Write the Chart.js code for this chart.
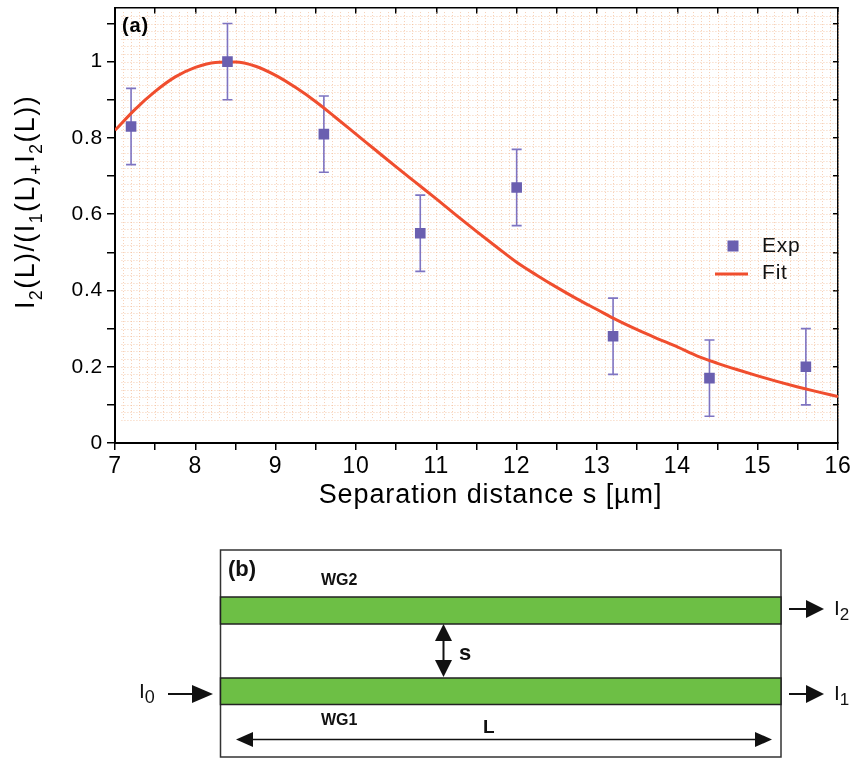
<!DOCTYPE html>
<html>
<head>
<meta charset="utf-8">
<script src="https://cdn.jsdelivr.net/npm/chart.js@4.4.1/dist/chart.umd.min.js"></script>
<style>
  body { margin: 0; background: #fff; width: 858px; height: 759px; overflow: hidden; position: relative; }
  #wrap { position: absolute; left: 0; top: 0; width: 858px; height: 520px; }
  svg { position: absolute; left: 0; top: 0; }
  svg text { font-family: "Liberation Sans", Arial, sans-serif; fill: #111; }
</style>
</head>
<body>
<div id="wrap"><canvas id="c" width="858" height="520"></canvas></div>

<svg width="858" height="759" viewBox="0 0 858 759">
  <!-- (b) waveguide sketch -->
  <rect x="220.5" y="550" width="560.5" height="207" fill="#fff" stroke="#333" stroke-width="1.5"/>
  <rect x="220.5" y="597" width="560.5" height="27" fill="#6dbf45" stroke="#222" stroke-width="1.5"/>
  <rect x="220.5" y="678" width="560.5" height="26.5" fill="#6dbf45" stroke="#222" stroke-width="1.5"/>
  <text x="228" y="576" font-size="22" font-weight="bold">(b)</text>
  <text x="321" y="585" font-size="16" font-weight="bold">WG2</text>
  <text x="321" y="725" font-size="16" font-weight="bold">WG1</text>
  <text x="483" y="733" font-size="19" font-weight="bold">L</text>
  <text x="459" y="660" font-size="22" font-weight="bold">s</text>
  <!-- L arrow -->
  <line x1="250" y1="739.5" x2="758" y2="739.5" stroke="#111" stroke-width="1.5"/>
  <polygon points="236,739.5 253,732 253,747" fill="#111"/>
  <polygon points="772,739.5 755,732 755,747" fill="#111"/>
  <!-- s arrow -->
  <line x1="443.5" y1="638" x2="443.5" y2="662" stroke="#111" stroke-width="2"/>
  <polygon points="443.5,624 435,641 452,641" fill="#111"/>
  <polygon points="443.5,677 435,660 452,660" fill="#111"/>
  <!-- outputs -->
  <line x1="789" y1="609" x2="808" y2="609" stroke="#111" stroke-width="2"/>
  <polygon points="824,609 806,600 806,618" fill="#111"/>
  <line x1="789" y1="694" x2="808" y2="694" stroke="#111" stroke-width="2"/>
  <polygon points="824,694 806,685 806,703" fill="#111"/>
  <text x="834" y="615" font-size="21">I<tspan font-size="17" dy="5">2</tspan></text>
  <text x="834" y="700" font-size="21">I<tspan font-size="17" dy="5">1</tspan></text>
  <!-- input -->
  <line x1="168" y1="694" x2="194" y2="694" stroke="#111" stroke-width="2"/>
  <polygon points="213,694 192,685 192,703" fill="#111"/>
  <text x="139" y="698" font-size="21">I<tspan font-size="18" dy="5">0</tspan></text>
</svg>

<script>
// measured points
const sExp = [7.2, 8.4, 9.6, 10.8, 12.0, 13.2, 14.4, 15.6];
const ratioExp = [0.83, 1.00, 0.81, 0.55, 0.67, 0.28, 0.17, 0.20];
const errExp = [0.1, 0.1, 0.1, 0.1, 0.1, 0.1, 0.1, 0.1];

// fit curve
const sFit = [7.0, 7.25, 7.5, 7.75, 8.0, 8.25, 8.5, 8.75, 9.0, 9.25, 9.5, 9.75,
  10.0, 10.25, 10.5, 10.75, 11.0, 11.25, 11.5, 11.75, 12.0, 12.25, 12.5, 12.75,
  13.0, 13.25, 13.5, 13.75, 14.0, 14.25, 14.5, 14.75, 15.0, 15.25, 15.5, 15.75, 16.0];
const ratioFit = [0.82, 0.875, 0.922, 0.96, 0.985, 0.998, 0.999, 0.988, 0.964, 0.932, 0.895, 0.853,
  0.81, 0.767, 0.724, 0.682, 0.64, 0.597, 0.555, 0.514, 0.474, 0.44, 0.408, 0.378,
  0.35, 0.322, 0.297, 0.274, 0.252, 0.228, 0.209, 0.192, 0.176, 0.161, 0.147, 0.134, 0.122];

const yTickLabels = ['0', '0.2', '0.4', '0.6', '0.8', '1'];
const xTitle = 'Separation distance s [µm]';
// y title pieces: [text, isSubscript]
const yTitleParts = [['I', false], ['2', true], ['(L)/(I', false], ['1', true], ['(L)', false],
  ['+', true], ['I', false], ['2', true], ['(L))', false]];

const expColor = '#6a5fb0';
const errColor = '#7e74c2';
const fitColor = '#f04e2e';
const FONT = '"Liberation Sans", Arial, sans-serif';

// faint dotted background, error bars, legend, labels
const extras = {
  id: 'extras',
  beforeDraw(chart) {
    chart.ctx.letterSpacing = '0.8px';
  },
  beforeDatasetsDraw(chart) {
    const { ctx } = chart;
    const x = chart.scales.x, y = chart.scales.y;
    ctx.save();
    ctx.strokeStyle = 'rgba(240,175,130,0.6)';
    ctx.lineWidth = 1;
    ctx.setLineDash([1, 2]);
    const yTop = y.getPixelForValue(1.13), yBot = y.getPixelForValue(0.06);
    const xL = x.getPixelForValue(7.08), xR = x.getPixelForValue(16);
    for (let i = 71; i <= 160; i++) {
      const px = Math.round(x.getPixelForValue(i / 10)) + 0.5;
      ctx.beginPath(); ctx.moveTo(px, yTop); ctx.lineTo(px, yBot); ctx.stroke();
    }
    for (let j = 3; j <= 56; j++) {
      const py = Math.round(y.getPixelForValue(j / 50)) + 0.5;
      ctx.beginPath(); ctx.moveTo(xL, py); ctx.lineTo(xR, py); ctx.stroke();
    }
    ctx.setLineDash([]);

    // error bars
    ctx.strokeStyle = errColor;
    ctx.lineWidth = 1.6;
    sExp.forEach((s, i) => {
      const px = x.getPixelForValue(s);
      const p1 = y.getPixelForValue(ratioExp[i] - errExp[i]);
      const p2 = y.getPixelForValue(ratioExp[i] + errExp[i]);
      ctx.beginPath();
      ctx.moveTo(px, p1); ctx.lineTo(px, p2);
      ctx.moveTo(px - 5, p1); ctx.lineTo(px + 5, p1);
      ctx.moveTo(px - 5, p2); ctx.lineTo(px + 5, p2);
      ctx.stroke();
    });
    ctx.restore();
  },
  afterDraw(chart) {
    const { ctx, chartArea } = chart;
    ctx.save();
    // panel label
    ctx.fillStyle = '#000';
    ctx.font = 'bold 20px ' + FONT;
    ctx.textBaseline = 'middle';
    ctx.fillText('(a)', chartArea.left + 7, 26);

    // legend
    const lx = chartArea.right - 123;
    ctx.fillStyle = expColor;
    ctx.fillRect(lx + 12.5, 240.5, 11, 11);
    ctx.strokeStyle = fitColor;
    ctx.lineWidth = 3;
    ctx.beginPath(); ctx.moveTo(lx, 274); ctx.lineTo(lx + 33, 274); ctx.stroke();
    ctx.fillStyle = '#111';
    ctx.font = '21px ' + FONT;
    ctx.fillText(chart.data.datasets[0].label, lx + 47, 246);
    ctx.fillText(chart.data.datasets[1].label, lx + 47, 273);

    // x axis title
    ctx.fillStyle = '#000';
    ctx.font = '27px ' + FONT;
    ctx.textAlign = 'center';
    ctx.textBaseline = 'alphabetic';
    ctx.letterSpacing = '0.9px';
    ctx.fillText(xTitle, (chartArea.left + chartArea.right) / 2 + 14, 503);

    // y axis title with subscripts
    ctx.textAlign = 'left';
    ctx.letterSpacing = '1.4px';
    const mainF = '27px ' + FONT, subF = '18px ' + FONT;
    let total = 0;
    yTitleParts.forEach(([t, sub]) => { ctx.font = sub ? subF : mainF; total += ctx.measureText(t).width; });
    ctx.translate(34, 202);
    ctx.rotate(-Math.PI / 2);
    let pos = -total / 2;
    yTitleParts.forEach(([t, sub]) => {
      ctx.font = sub ? subF : mainF;
      ctx.fillText(t, pos, sub ? 8 : 0);
      pos += ctx.measureText(t).width;
    });
    ctx.restore();
  }
};

const ctx = document.getElementById('c').getContext('2d');
new Chart(ctx, {
  type: 'scatter',
  data: {
    datasets: [
      {
        label: 'Exp',
        data: sExp.map((s, i) => ({ x: s, y: ratioExp[i] })),
        pointStyle: 'rect',
        pointRadius: 7.5,
        backgroundColor: expColor,
        borderColor: expColor,
        borderWidth: 0,
        order: 1
      },
      {
        label: 'Fit',
        type: 'line',
        data: sFit.map((s, i) => ({ x: s, y: ratioFit[i] })),
        borderColor: fitColor,
        borderWidth: 3,
        pointRadius: 0,
        cubicInterpolationMode: 'monotone',
        fill: false,
        order: 2
      }
    ]
  },
  options: {
    responsive: false,
    animation: false,
    layout: { padding: { top: 2, right: 20, left: 0, bottom: 0 } },
    plugins: { legend: { display: false }, tooltip: { enabled: false } },
    scales: {
      x: {
        type: 'linear', position: 'bottom', min: 7, max: 16,
        ticks: {
          stepSize: 0.5, autoSkip: false, maxRotation: 0, includeBounds: false,
          color: '#000', font: { family: FONT, size: 23 }, padding: 3,
          callback: v => Number.isInteger(v) ? String(v) : ''
        },
        grid: { drawOnChartArea: false, drawTicks: true, tickLength: 7, color: '#000', lineWidth: 1.5 },
        border: { color: '#000', width: 2 },
        afterFit: s => { s.height = 77; s.paddingLeft = 0; s.paddingRight = 0; }
      },
      x2: {
        type: 'linear', position: 'top', min: 7, max: 16,
        ticks: { display: false, stepSize: 0.5, autoSkip: false, includeBounds: false },
        grid: { drawOnChartArea: false, drawTicks: true, tickLength: -6, color: '#000', lineWidth: 1.5 },
        border: { color: '#000', width: 1.5 },
        afterFit: s => { s.height = 0; s.paddingLeft = 0; s.paddingRight = 0; }
      },
      y: {
        type: 'linear', position: 'left', min: 0, max: 1.142,
        ticks: {
          stepSize: 0.1, autoSkip: false, includeBounds: false,
          color: '#000', font: { family: FONT, size: 21 }, padding: 4,
          callback: v => {
            const r = Math.round(v * 10);
            return (r % 2 === 0 && r <= 10) ? yTickLabels[r / 2] : '';
          }
        },
        grid: { drawOnChartArea: false, drawTicks: true, tickLength: 8, color: '#000', lineWidth: 1.5 },
        border: { color: '#000', width: 2 },
        afterFit: s => { s.width = 115; s.paddingTop = 0; s.paddingBottom = 0; }
      },
      y2: {
        type: 'linear', position: 'right', min: 0, max: 1.142,
        ticks: { display: false, stepSize: 0.1, autoSkip: false, includeBounds: false },
        grid: { drawOnChartArea: false, drawTicks: true, tickLength: -5, color: '#000', lineWidth: 1.5 },
        border: { color: '#000', width: 1.5 },
        afterFit: s => { s.width = 0; s.paddingTop = 0; s.paddingBottom = 0; }
      }
    }
  },
  plugins: [extras]
});
</script>
</body>
</html>
